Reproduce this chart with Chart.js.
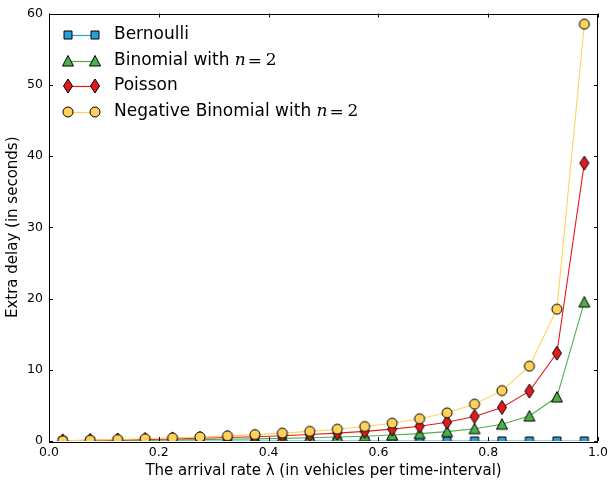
<!DOCTYPE html>
<html>
<head>
<meta charset="utf-8">
<script src="https://cdn.jsdelivr.net/npm/chart.js@4/dist/chart.umd.min.js"></script>
<style>
  html,body{margin:0;padding:0;background:#fff;}
  #wrap{width:612px;height:482px;}
</style>
</head>
<body>
<div id="wrap"><canvas id="delayChart" width="612" height="482"></canvas></div>
<script>
// arrival rates (x) and extra delay per arrival model (y, seconds)
const lambdas=[0.025,0.075,0.125,0.175,0.225,0.275,0.325,0.375,0.425,0.475,0.525,0.575,0.625,0.675,0.725,0.775,0.825,0.875,0.925,0.975];
const bernoulli=[0,0,0,0,0,0,0,0,0,0,0,0,0,0,0,0,0,0,0,0];
const binomial=[0.013,0.041,0.071,0.106,0.145,0.19,0.241,0.3,0.37,0.452,0.553,0.676,0.833,1.038,1.318,1.722,2.357,3.5,6.17,19.5];
const poisson=[0.026,0.081,0.143,0.212,0.29,0.379,0.481,0.6,0.739,0.905,1.105,1.353,1.667,2.077,2.636,3.444,4.714,7.0,12.33,39.0];
const negBinomial=[0.038,0.122,0.214,0.318,0.435,0.569,0.722,0.9,1.109,1.357,1.658,2.029,2.5,3.115,3.955,5.167,7.071,10.5,18.5,58.5];
const seriesNames=["Bernoulli","Binomial with ","Poisson","Negative Binomial with "];
const xTicks=[0,0.2,0.4,0.6,0.8,1.0];
const yTicks=[0,10,20,30,40,50,60];

const colors={blue:"#2a9fda",green:"#4daf4a",red:"#e41a1c",yellow:"#ffd25c"};

// small canvases used as point markers (matplotlib-ish shapes, black edge)
function marker(shape,fill){
  const c=document.createElement("canvas"); c.width=16; c.height=16;
  const g=c.getContext("2d"); const m=8;
  g.fillStyle=fill; g.strokeStyle="#000"; g.lineWidth=1;
  g.beginPath();
  if(shape==="square") g.rect(m-4,m-4,8,8);
  else if(shape==="triangle"){ g.moveTo(m,m-5.5); g.lineTo(m+5.5,m+5); g.lineTo(m-5.5,m+5); g.closePath(); }
  else if(shape==="diamond"){ g.moveTo(m,m-7); g.lineTo(m+4.5,m); g.lineTo(m,m+7); g.lineTo(m-4.5,m); g.closePath(); }
  else g.arc(m,m,5,0,Math.PI*2);
  g.fill(); g.stroke();
  return c;
}
const markers=[marker("square",colors.blue),marker("triangle",colors.green),marker("diamond",colors.red),marker("circle",colors.yellow)];
const lineColors=[colors.blue,colors.green,colors.red,colors.yellow];

function pts(ys){ return lambdas.map((x,i)=>({x:x,y:ys[i]})); }
function ds(i,ys){
  return {label:seriesNames[i], data:pts(ys), borderColor:lineColors[i], borderWidth:1.1,
    pointStyle:markers[i], pointRadius:5, pointHoverRadius:5, fill:false, tension:0, clip:0, order:4-i};
}

// frame + inward ticks on all four sides
const framePlugin={
  id:"frame",
  afterDatasetsDraw(chart){
    const {ctx,chartArea:a,scales}=chart;
    ctx.save();
    ctx.strokeStyle="#000"; ctx.lineWidth=1;
    ctx.beginPath();
    xTicks.forEach(v=>{
      const px=Math.round(scales.x.getPixelForValue(v))+0.5;
      ctx.moveTo(px,a.bottom); ctx.lineTo(px,a.bottom-4);
      ctx.moveTo(px,a.top); ctx.lineTo(px,a.top+4);
    });
    yTicks.forEach(v=>{
      const py=Math.round(scales.y.getPixelForValue(v))+0.5;
      ctx.moveTo(a.left,py); ctx.lineTo(a.left+4,py);
      ctx.moveTo(a.right,py); ctx.lineTo(a.right-4,py);
    });
    ctx.stroke();
    ctx.strokeRect(Math.round(a.left)+0.5,Math.round(a.top)+0.5,Math.round(a.right-a.left)-1,Math.round(a.bottom-a.top));
    ctx.restore();
  }
};

// legend with marker-line-marker handles and mathtext-like "n = 2"
const legendPlugin={
  id:"mplLegend",
  afterDraw(chart){
    const ctx=chart.ctx;
    const rows=[35,61,86,112], x1=68, x2=95, tx=114;
    ctx.save();
    ctx.textBaseline="middle";
    for(let i=0;i<4;i++){
      const y=rows[i];
      ctx.strokeStyle=lineColors[i]; ctx.lineWidth=1.2;
      ctx.beginPath(); ctx.moveTo(x1,y+0.5); ctx.lineTo(x2,y+0.5); ctx.stroke();
      ctx.drawImage(markers[i],x1-8,y-8); ctx.drawImage(markers[i],x2-8,y-8);
      ctx.fillStyle="#000";
      ctx.font='17px "DejaVu Sans"';
      ctx.fillText(seriesNames[i],tx,y);
      if(i===1||i===3){
        const x=tx+ctx.measureText(seriesNames[i]).width;
        ctx.font='italic 17px "DejaVu Serif"';
        ctx.fillText("n",x,y);
        ctx.font='17px "DejaVu Serif"';
        ctx.fillText("=",x+13,y+1);
        ctx.fillText("2",x+31,y);
      }
    }
    ctx.restore();
  }
};

const chart=new Chart(document.getElementById("delayChart").getContext("2d"),{
  type:"line",
  data:{datasets:[ds(0,bernoulli),ds(1,binomial),ds(2,poisson),ds(3,negBinomial)]},
  options:{
    responsive:false, animation:false, events:[],
    layout:{autoPadding:false, padding:{left:0,top:12,right:9,bottom:0}},
    plugins:{legend:{display:false},tooltip:{enabled:false}},
    scales:{
      x:{type:"linear",min:0,max:1,
        afterFit(s){ s.height=41; },
        afterBuildTicks(s){ s.ticks=xTicks.map(v=>({value:v})); },
        grid:{display:false,drawTicks:false}, border:{display:false},
        ticks:{padding:4,color:"#000",font:{family:"DejaVu Sans",size:12.5},maxRotation:0,callback:v=>v.toFixed(1)},
        title:{display:true,text:"The arrival rate λ (in vehicles per time-interval)",color:"#000",font:{family:"DejaVu Sans",size:15},padding:{top:0,bottom:2}}
      },
      y:{type:"linear",min:0,max:60,
        afterFit(s){ s.width=49; },
        afterBuildTicks(s){ s.ticks=yTicks.map(v=>({value:v})); },
        grid:{display:false,drawTicks:false}, border:{display:false},
        ticks:{padding:6,color:"#000",font:{family:"DejaVu Sans",size:12.5}},
        title:{display:true,text:"Extra delay (in seconds)",color:"#000",font:{family:"DejaVu Sans",size:15},padding:{top:4,bottom:0}}
      }
    }
  },
  plugins:[framePlugin,legendPlugin]
});
</script>
</body>
</html>
